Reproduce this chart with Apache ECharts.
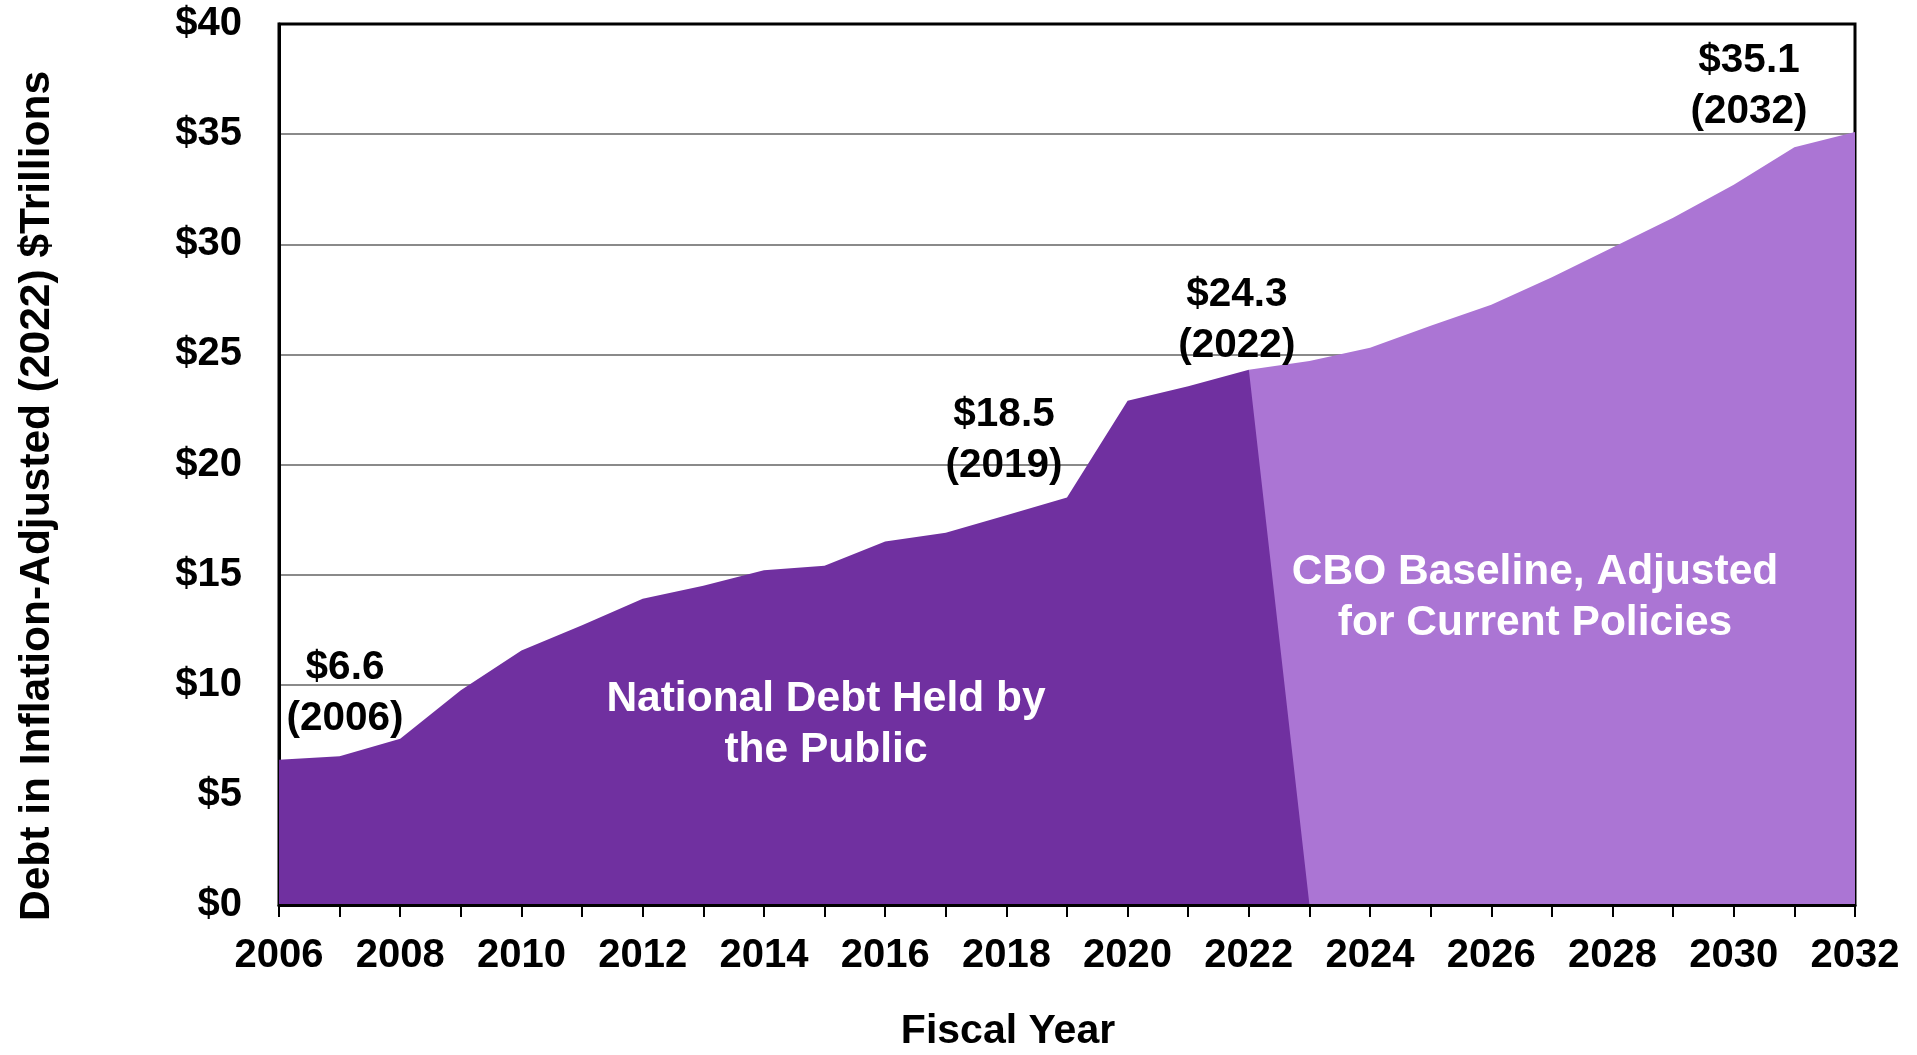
<!DOCTYPE html>
<html>
<head>
<meta charset="utf-8">
<title>National Debt Held by the Public, Inflation-Adjusted</title>
<script src="https://cdn.jsdelivr.net/npm/echarts@6/dist/echarts.min.js"></script>
<style>
  html, body { margin: 0; padding: 0; background: #ffffff; }
  #chart { width: 1917px; height: 1055px; }
</style>
</head>
<body>
<div id="chart"></div>
<script>
// Fiscal years on the horizontal axis
var years = ['2006','2007','2008','2009','2010','2011','2012','2013','2014','2015','2016',
             '2017','2018','2019','2020','2021','2022','2023','2024','2025','2026','2027',
             '2028','2029','2030','2031','2032'];

// Debt held by the public, $ trillions (2022 dollars); closes to zero at 2023
var historical = [6.6, 6.75, 7.55, 9.75, 11.55, 12.7, 13.9, 14.5, 15.2, 15.4, 16.5,
                  16.9, 17.7, 18.5, 22.9, 23.55, 24.3, 0, null, null, null, null,
                  null, null, null, null, null];

// CBO baseline adjusted for current policies, $ trillions (2022 dollars)
var projected = [null, null, null, null, null, null, null, null, null, null, null,
                 null, null, null, null, null, 24.3, 24.7, 25.3, 26.3, 27.25, 28.5,
                 29.85, 31.2, 32.7, 34.4, 35.1];

// Y-axis ticks
var yTicks = [0, 5, 10, 15, 20, 25, 30, 35, 40];

// Years whose values are called out
var calloutsHistorical = ['2006', '2019', '2022'];
var calloutsProjected = ['2032'];

var FONT = '"Liberation Sans", Arial, Helvetica, sans-serif';
var DARK = '#7030A0';
var LIGHT = '#AB75D4';

// label placement per called-out year (pixel offsets from the point)
var calloutOffset = {
  '2006': [66, -10],
  '2019': [-63, -1],
  '2022': [-12, 7],
  '2032': [-106, 10]
};

function withCallouts(values, calloutYears) {
  return values.map(function (v, i) {
    var yr = years[i];
    if (v !== null && calloutYears.indexOf(yr) >= 0) {
      return {
        value: v,
        label: {
          show: true,
          position: 'top',
          distance: 5,
          offset: calloutOffset[yr],
          formatter: '$' + v.toFixed(1) + '\n(' + yr + ')',
          fontFamily: FONT,
          fontWeight: 'bold',
          fontSize: 40.5,
          lineHeight: 51,
          color: '#000000',
          align: 'center'
        }
      };
    }
    return v;
  });
}

var chart = echarts.init(document.getElementById('chart'), null, { renderer: 'canvas' });

chart.setOption({
  animation: false,
  backgroundColor: '#ffffff',
  grid: {
    left: 279, top: 24, width: 1576, height: 881,
    show: true, borderColor: '#000000', borderWidth: 3, backgroundColor: '#ffffff'
  },
  xAxis: {
    type: 'category',
    data: years,
    boundaryGap: false,
    axisLine: { show: true, lineStyle: { color: '#000000', width: 3 } },
    axisTick: { show: true, interval: 0, length: 12, lineStyle: { color: '#000000', width: 2 } },
    axisLabel: {
      interval: 1,
      margin: 31,
      fontFamily: FONT, fontWeight: 'bold', fontSize: 40, color: '#000000'
    },
    splitLine: { show: false },
    z: 10
  },
  yAxis: {
    type: 'value',
    min: yTicks[0],
    max: yTicks[yTicks.length - 1],
    interval: yTicks[1] - yTicks[0],
    axisLine: { show: true, lineStyle: { color: '#000000', width: 3 } },
    axisTick: { show: false },
    axisLabel: {
      margin: 37,
      formatter: function (v) { return '$' + v; },
      fontFamily: FONT, fontWeight: 'bold', fontSize: 40, color: '#000000'
    },
    splitLine: { show: true, showMaxLine: false, lineStyle: { color: '#8a8a8a', width: 2 } }
  },
  series: [
    {
      name: 'CBO Baseline, Adjusted for Current Policies',
      type: 'line',
      data: withCallouts(projected, calloutsProjected),
      symbol: 'circle',
      symbolSize: 0,
      showSymbol: true,
      showAllSymbol: true,
      connectNulls: false,
      lineStyle: { width: 0, color: LIGHT },
      itemStyle: { color: LIGHT },
      areaStyle: { color: LIGHT, opacity: 1 },
      z: 2
    },
    {
      name: 'National Debt Held by the Public',
      type: 'line',
      data: withCallouts(historical, calloutsHistorical),
      symbol: 'circle',
      symbolSize: 0,
      showSymbol: true,
      showAllSymbol: true,
      connectNulls: false,
      lineStyle: { width: 0, color: DARK },
      itemStyle: { color: DARK },
      areaStyle: { color: DARK, opacity: 1 },
      z: 3
    }
  ],
  graphic: [
    {
      type: 'text', x: 826, y: 725, z: 100,
      style: {
        text: 'National Debt Held by\nthe Public',
        fill: '#ffffff', font: 'bold 42.5px ' + FONT,
        align: 'center', verticalAlign: 'middle', lineHeight: 51
      }
    },
    {
      type: 'text', x: 1535, y: 598, z: 100,
      style: {
        text: 'CBO Baseline, Adjusted\nfor Current Policies',
        fill: '#ffffff', font: 'bold 42.5px ' + FONT,
        align: 'center', verticalAlign: 'middle', lineHeight: 51
      }
    },
    {
      type: 'text', x: 1008, y: 1032, z: 100,
      style: {
        text: 'Fiscal Year',
        fill: '#000000', font: 'bold 41px ' + FONT,
        align: 'center', verticalAlign: 'middle'
      }
    },
    {
      type: 'text', x: 37, y: 496, rotation: Math.PI / 2, z: 100,
      style: {
        text: 'Debt in Inflation-Adjusted (2022) $Trillions',
        fill: '#000000', font: 'bold 42.5px ' + FONT,
        align: 'center', verticalAlign: 'middle'
      }
    }
  ]
});
</script>
</body>
</html>
